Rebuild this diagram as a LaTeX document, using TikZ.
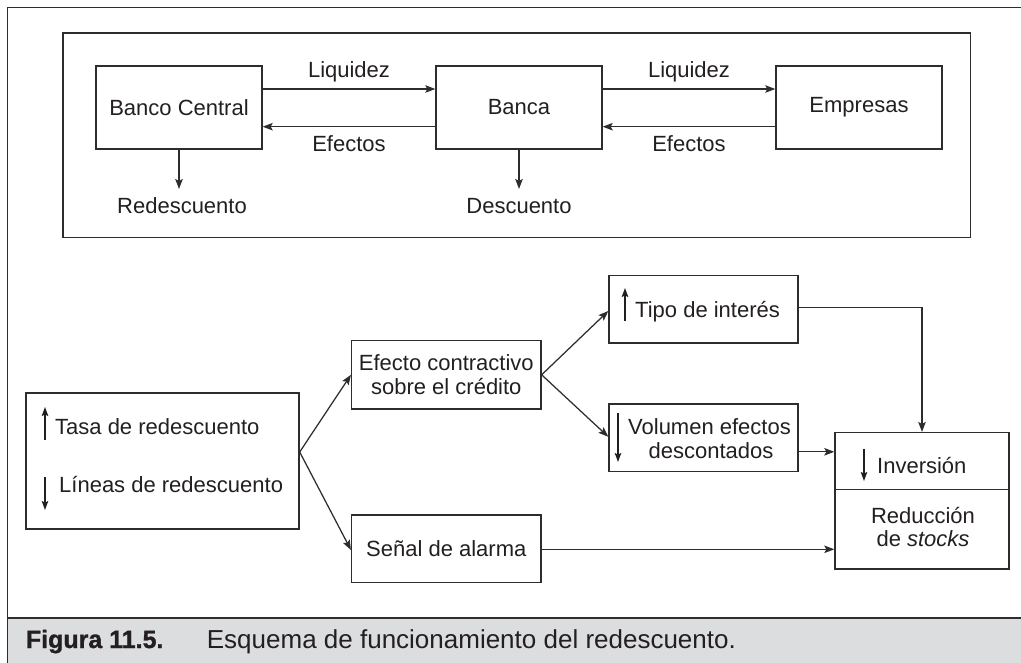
\documentclass[tikz,border=0pt]{standalone}
\usepackage{fontspec}
\usepackage{graphicx}
\setmainfont{Liberation Sans}
\newfontfamily\heavyfont{Liberation Sans Bold}[FakeBold=1.2]
\usetikzlibrary{arrows.meta}
\definecolor{ink}{RGB}{35,31,32}
\definecolor{linec}{RGB}{45,45,45}
\definecolor{band}{RGB}{220,221,223}
\begin{document}
\begin{tikzpicture}[x=1pt,y=-1pt,
  every node/.style={font=\fontsize{22}{23.5}\selectfont, text=ink},
  bx/.style={draw=linec, line width=1.4pt, inner sep=0pt, rectangle},
  arr/.style={draw=linec, line width=1.25pt, -{Stealth[length=10pt,width=7.5pt,inset=2pt]}},
  glyph/.style={draw=ink, line width=1.2pt, -{Stealth[length=9pt,width=6.5pt,inset=1.5pt]}},
  lbl/.style={anchor=base, inner sep=0pt},
  frame/.style={draw=linec, line width=1.4pt},
]
\useasboundingbox (0,0) rectangle (1021,663);

% outer frame and caption band
\fill[band] (7.3,618) rectangle (1021,663);
\draw[frame] (1021,7.3) -- (7.3,7.3) -- (7.3,663);
\draw[frame] (7.3,618) -- (1021,618);
\node[lbl, anchor=base west, font=\fontsize{25}{28}\heavyfont] (fig) at (25.7,648) {Figura 11.5.};
\node[lbl, anchor=base west, font=\fontsize{26}{28}\selectfont] (cap) at (206.7,648) {Esquema de funcionamiento del redescuento.};

% ---------------- upper panel ----------------
\draw[frame] (63,33) rectangle (970.7,237.5);

\node[bx, minimum width=166pt, minimum height=83pt] (bc) at (179,107.5) {Banco Central};
\node[bx, minimum width=166pt, minimum height=83pt] (ba) at (519,107.5) {Banca};
\node[bx, minimum width=166pt, minimum height=83pt] (em) at (859,107.5) {Empresas};

\draw[arr] ([yshift=18.5pt]bc.east) -- ([yshift=18.5pt]ba.west);
\draw[arr] ([yshift=18.5pt]ba.east) -- ([yshift=18.5pt]em.west);
\draw[arr] ([yshift=-19.2pt]ba.west) -- ([yshift=-19.2pt]bc.east);
\draw[arr] ([yshift=-19.2pt]em.west) -- ([yshift=-19.2pt]ba.east);

\node[lbl] (liq1) at (349,78) {Liquidez};
\node[lbl] (liq2) at (689,78) {Liquidez};
\node[lbl] (ef1) at (349,152) {Efectos};
\node[lbl] (ef2) at (689,152) {Efectos};

\node[lbl] (red) at (182,214) {Redescuento};
\node[lbl] (des) at (519,214) {Descuento};
\coordinate (redtop) at (179,189);
\coordinate (destop) at (519,189);
\draw[arr] (bc.south) -- (redtop);
\draw[arr] (ba.south) -- (destop);

% ---------------- lower panel ----------------
\node[bx, minimum width=273pt, minimum height=136pt] (L) at (162.5,461) {};
\node[lbl, anchor=base west] (tasa) at (55,434) {Tasa de redescuento};
\node[lbl, anchor=base west] (lin) at (59,492) {Líneas de redescuento};
\coordinate (ua1) at (45,440); \coordinate (ua2) at (45,407);
\coordinate (da1) at (45,477); \coordinate (da2) at (45,510);
\draw[glyph] (ua1) -- (ua2);
\draw[glyph] (da1) -- (da2);

\node[bx, minimum width=189.3pt, minimum height=68.3pt, align=center] (E) at (446.3,374.8) {Efecto contractivo\\sobre el crédito};
\node[bx, minimum width=189.3pt, minimum height=67.3pt] (S) at (446.3,548.7) {Señal de alarma};

\node[bx, minimum width=189pt, minimum height=67.3pt] (T) at (703.5,309.3) {};
\node[lbl, anchor=base west] (tipo) at (635,318) {Tipo de interés};
\coordinate (ta1) at (625,321); \coordinate (ta2) at (625,288);
\draw[glyph] (ta1) -- (ta2);

\node[bx, minimum width=189pt, minimum height=67.7pt] (V) at (703.5,437.8) {};
\node[lbl] (vol1) at (709.5,434) {Volumen efectos};
\node[lbl] (vol2) at (711,458) {descontados};
\coordinate (va1) at (618,413); \coordinate (va2) at (618,462);
\draw[glyph] (va1) -- (va2);

\node[bx, minimum width=174pt, minimum height=136.3pt] (I) at (922,500.8) {};
\coordinate (Idiv) at (922,489.3);
\draw[draw=linec, line width=1.4pt] (I.west |- Idiv) -- (I.east |- Idiv);
\node[lbl, anchor=base west] (inv) at (877,473) {Inversión};
\node[lbl] (redu) at (923,523) {Reducción};
\node[lbl] (stk) at (923,546) {de \textit{stocks}};
\coordinate (ia1) at (864,449); \coordinate (ia2) at (864,481);
\draw[glyph] (ia1) -- (ia2);

% connectors
\draw[arr] ([yshift=9pt]L.east) -- (E.west);
\draw[arr] ([yshift=9pt]L.east) -- ([yshift=-1.3pt]S.west);
\draw[arr] (E.east) -- ([yshift=-1.7pt]T.west);
\draw[arr] (E.east) -- ([yshift=1pt]V.west);
\draw[arr] ([yshift=1.6pt]T.east) -| (I.north);
\draw[arr] ([yshift=-14pt]V.east) -- ([yshift=-14pt]V.east -| I.west);
\draw[arr] ([yshift=-0.6pt]S.east) -- ([yshift=-0.6pt]S.east -| I.west);
\end{tikzpicture}
\end{document}
